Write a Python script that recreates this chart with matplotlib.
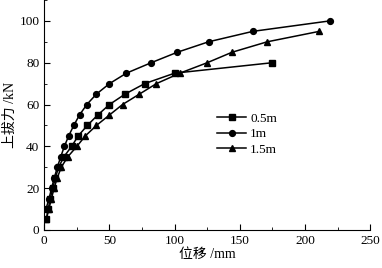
import matplotlib
matplotlib.use("Agg")
import matplotlib.pyplot as plt
from matplotlib.ticker import MultipleLocator

plt.rcParams['font.family'] = ['Liberation Serif', 'Noto Sans CJK SC']
plt.rcParams['mathtext.fontset'] = 'stix'

# 0.5m
x_05 = [1.5, 3, 4.5, 6.5, 8.5, 11, 15, 21, 26, 33, 41, 50, 62, 77, 100, 175]
y_05 = [5, 10, 15, 20, 25, 30, 35, 40, 45, 50, 55, 60, 65, 70, 75, 80]
# 1m
x_1 = [1.3, 3.6, 5.6, 7.7, 10, 12.6, 15.4, 18.7, 22.6, 27, 32.6, 40, 50, 63, 82, 102, 126, 160, 219]
y_1 = [10, 15, 20, 25, 30, 35, 40, 45, 50, 55, 60, 65, 70, 75, 80, 85, 90, 95, 100]
# 1.5m
x_15 = [1.5, 3.5, 5.5, 7.5, 10, 13, 18, 25, 31.5, 40, 50, 60, 73, 86, 104, 125, 144, 171, 211]
y_15 = [5, 10, 15, 20, 25, 30, 35, 40, 45, 50, 55, 60, 65, 70, 75, 80, 85, 90, 95]

fig = plt.figure(figsize=(3.82, 2.68), dpi=100)
ax = fig.add_axes([0.116, 0.142, 0.853, 0.858])

ax.plot(x_05, y_05, 'k-', marker='s', ms=3.8, lw=1.1, label='0.5m')
ax.plot(x_1, y_1, 'k-', marker='o', ms=4.2, lw=1.1, label='1m')
ax.plot(x_15, y_15, 'k-', marker='^', ms=4.2, lw=1.1, label='1.5m')

ax.set_xlim(0, 250)
ax.set_ylim(0, 110)
ax.xaxis.set_major_locator(MultipleLocator(50))
ax.xaxis.set_minor_locator(MultipleLocator(25))
ax.yaxis.set_major_locator(MultipleLocator(20))
ax.yaxis.set_minor_locator(MultipleLocator(10))
ax.tick_params(which='both', direction='in', labelsize=9.5)
ax.tick_params(which='major', length=4)
ax.tick_params(which='minor', length=2.5)
ax.spines['top'].set_visible(False)
ax.spines['right'].set_visible(False)

ax.set_xlabel('位移 /mm', fontsize=10, labelpad=1)
ax.set_ylabel('上拔力 /kN', fontsize=10, labelpad=2)

ax.legend(loc='upper left', bbox_to_anchor=(0.51, 0.54), frameon=False,
          fontsize=9.5, handlelength=2.2, handletextpad=0.3, labelspacing=0.25,
          borderpad=0)

fig.savefig('out.png', dpi=100)
